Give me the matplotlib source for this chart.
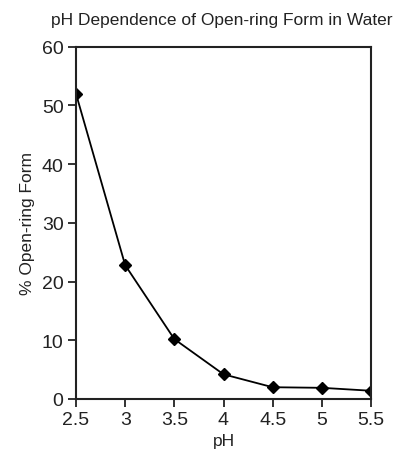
import matplotlib
matplotlib.use("Agg")
import matplotlib.pyplot as plt

ph = [2.5, 3, 3.5, 4, 4.5, 5, 5.5]
open_ring = [52, 22.8, 10.2, 4.2, 2.0, 1.9, 1.4]
xticks = [2.5, 3, 3.5, 4, 4.5, 5, 5.5]
xlabels = ["2.5", "3", "3.5", "4", "4.5", "5", "5.5"]
yticks = [0, 10, 20, 30, 40, 50, 60]

plt.rcParams["font.family"] = ["Liberation Sans", "DejaVu Sans"]

fig = plt.figure(figsize=(4, 4.64), dpi=100)
ax = fig.add_axes([0.19, 0.138, 0.7375, 0.759])
ax.plot(ph, open_ring, color="black", lw=1.3, marker="D", ms=6, mfc="black", mec="black")
ax.set_xlim(2.5, 5.5)
ax.set_ylim(0, 60)
ax.set_xticks(xticks)
ax.set_xticklabels(xlabels)
ax.set_yticks(yticks)
ax.tick_params(direction="out", length=6, width=1.3, labelsize=14, pad=3, colors="#222222")
for s in ax.spines.values():
    s.set_linewidth(1.5)
    s.set_color("#222222")
ax.set_xlabel("pH", fontsize=12.5, labelpad=3, color="#222222")
ax.set_ylabel("% Open-ring Form", fontsize=12.5, labelpad=5, color="#222222")
fig.text(0.555, 0.955, "pH Dependence of Open-ring Form in Water", ha="center", va="center",
         fontsize=12.5, color="#222222",
         family=["Liberation Sans Narrow", "Liberation Sans", "DejaVu Sans"])
fig.savefig("out.png", dpi=100)
